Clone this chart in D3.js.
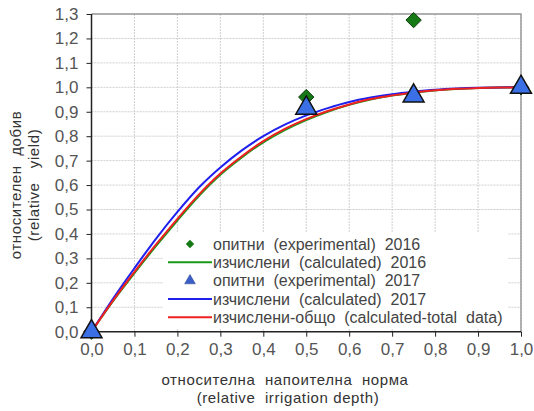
<!DOCTYPE html>
<html>
<head>
<meta charset="utf-8">
<script src="https://cdn.jsdelivr.net/npm/d3@7"></script>
<style>
  html, body { margin: 0; padding: 0; background: #fff; }
  svg { display: block; font-family: "Liberation Sans", Arial, sans-serif; }
</style>
</head>
<body>
<svg id="chart" width="534" height="411"></svg>
<script>
// Relative irrigation depth (x) and relative yield (y)
const xTicks = [0, 0.1, 0.2, 0.3, 0.4, 0.5, 0.6, 0.7, 0.8, 0.9, 1.0];
const yTicks = [0, 0.1, 0.2, 0.3, 0.4, 0.5, 0.6, 0.7, 0.8, 0.9, 1.0, 1.1, 1.2, 1.3];

// Experimental points
const exp2016X = [0, 0.5, 0.75, 1.0];
const exp2016Y = [0, 0.96, 1.275, 1.0];
const exp2017X = [0, 0.5, 0.75, 1.0];
const exp2017Y = [0, 0.915, 0.965, 1.0];

// Calculated curves
const curveX    = [0, 0.05, 0.1, 0.15, 0.2, 0.25, 0.3, 0.35, 0.4, 0.45, 0.5, 0.55, 0.6, 0.65, 0.7, 0.75, 0.8, 0.85, 0.9, 0.95, 1.0];
const calc2016  = [0, 0.125, 0.24, 0.35, 0.455, 0.555, 0.642, 0.713, 0.775, 0.825, 0.866, 0.9, 0.928, 0.95, 0.966, 0.978, 0.987, 0.993, 0.997, 0.999, 1.0];
const calc2017  = [0, 0.135, 0.26, 0.38, 0.49, 0.59, 0.672, 0.742, 0.80, 0.847, 0.885, 0.915, 0.94, 0.958, 0.972, 0.982, 0.99, 0.995, 0.998, 0.9995, 1.0];
const calcTotal = [0, 0.127, 0.245, 0.356, 0.462, 0.561, 0.647, 0.718, 0.78, 0.83, 0.87, 0.903, 0.93, 0.952, 0.967, 0.979, 0.988, 0.994, 0.997, 0.999, 1.0];

const legendLabels = [
  "опитни  (experimental)  2016",
  "изчислени  (calculated)  2016",
  "опитни  (experimental)  2017",
  "изчислени  (calculated)  2017",
  "изчислени-общо  (calculated-total  data)"
];

const svg = d3.select("#chart");
const plotL = 91.5, plotR = 521, plotT = 14, plotB = 331.7;

const x = d3.scaleLinear().domain([0, 1]).range([plotL, plotR]);
const y = d3.scaleLinear().domain([0, 1.3]).range([plotB, plotT]);
const fmt = d => d3.format(".1f")(d).replace(".", ",");

// Grid
const grid = svg.append("g");
grid.selectAll("line.h").data(yTicks.slice(1)).join("line")
  .attr("class", "h")
  .attr("x1", plotL).attr("x2", plotR)
  .attr("y1", d => y(d)).attr("y2", d => y(d))
  .attr("stroke", "#cfcfcf").attr("stroke-width", 1).attr("stroke-dasharray", "2,1");
grid.selectAll("line.v").data(xTicks.slice(1)).join("line")
  .attr("class", "v")
  .attr("y1", plotT).attr("y2", plotB)
  .attr("x1", d => x(d)).attr("x2", d => x(d))
  .attr("stroke", "#cfcfcf").attr("stroke-width", 1).attr("stroke-dasharray", "2,1");

// Frame (top & right)
svg.append("path")
  .attr("d", `M${plotL},${plotT}H${plotR}V${plotB}`)
  .attr("fill", "none").attr("stroke", "#9a9a9a").attr("stroke-width", 1.5);

// Axes
const xAxis = d3.axisBottom(x).tickValues(xTicks).tickFormat(fmt).tickSize(5).tickPadding(6);
const yAxis = d3.axisLeft(y).tickValues(yTicks).tickFormat(fmt).tickSize(5).tickPadding(8);

const gx = svg.append("g").attr("transform", `translate(0,${plotB})`).call(xAxis);
const gy = svg.append("g").attr("transform", `translate(${plotL},0)`).call(yAxis);
[gx, gy].forEach(g => {
  g.select(".domain").attr("stroke", "#222").attr("stroke-width", 1.5);
  g.selectAll(".tick line").attr("stroke", "#222");
  g.selectAll(".tick text").attr("fill", "#555")
    .style("font-size", "17px").style("font-family", "Liberation Sans, Arial, sans-serif");
});
gx.select(".domain").attr("d", `M${plotL},0H${plotR}`);
gy.select(".domain").attr("d", `M0,${plotT}V${plotB}`);

// Legend box (white background)
const lg = svg.append("g");
lg.append("rect").attr("x", 163).attr("y", 233).attr("width", 345).attr("height", 95).attr("fill", "#fff");

// Calculated curves
const line = d3.line().x((d, i) => x(curveX[i])).y(d => y(d)).curve(d3.curveMonotoneX);
svg.append("path").datum(calc2016).attr("d", line)
  .attr("fill", "none").attr("stroke", "#1a9a1a").attr("stroke-width", 2);
svg.append("path").datum(calc2017).attr("d", line)
  .attr("fill", "none").attr("stroke", "#2020ee").attr("stroke-width", 2);
svg.append("path").datum(calcTotal).attr("d", line)
  .attr("fill", "none").attr("stroke", "#ee2020").attr("stroke-width", 2);

// Experimental markers
const diamond = d3.symbol().type(d3.symbolDiamond2).size(150);
const triangle = d3.symbol().type(d3.symbolTriangle).size(190);

svg.append("g").selectAll("path").data(exp2016Y).join("path")
  .attr("d", diamond)
  .attr("transform", (d, i) => `translate(${x(exp2016X[i])},${y(d)})`)
  .attr("fill", "#157a15").attr("stroke", "#0c3a0c").attr("stroke-width", 1);

svg.append("g").selectAll("path").data(exp2017Y).join("path")
  .attr("d", triangle)
  .attr("transform", (d, i) => `translate(${x(exp2017X[i])},${y(d)})`)
  .attr("fill", "#3b6fe6").attr("stroke", "#111").attr("stroke-width", 1.5)
  .attr("stroke-linejoin", "miter");

// Legend entries
const rowY = [244, 262.3, 280.7, 299, 317.3];
const textX = 213;
lg.append("path").attr("d", d3.symbol().type(d3.symbolDiamond2).size(45))
  .attr("transform", `translate(190,${rowY[0]})`).attr("fill", "#157a15");
lg.append("line").attr("x1", 168).attr("x2", 212).attr("y1", rowY[1]).attr("y2", rowY[1])
  .attr("stroke", "#1a9a1a").attr("stroke-width", 2);
lg.append("path").attr("d", d3.symbol().type(d3.symbolTriangle).size(50))
  .attr("transform", `translate(190,${rowY[2]})`).attr("fill", "#3a5fc8").attr("stroke", "#2a3f8a").attr("stroke-width", 0.5);
lg.append("line").attr("x1", 168).attr("x2", 212).attr("y1", rowY[3]).attr("y2", rowY[3])
  .attr("stroke", "#2020ee").attr("stroke-width", 2);
lg.append("line").attr("x1", 168).attr("x2", 212).attr("y1", rowY[4]).attr("y2", rowY[4])
  .attr("stroke", "#ee2020").attr("stroke-width", 2);
lg.selectAll("text").data(legendLabels).join("text")
  .attr("x", textX).attr("y", (d, i) => rowY[i]).attr("dy", "0.35em")
  .attr("fill", "#444").style("font-size", "16px").style("white-space", "pre")
  .text(d => d);

// Axis titles
svg.append("text").attr("x", 285).attr("y", 385).attr("text-anchor", "middle")
  .attr("fill", "#333").style("font-size", "15px").style("letter-spacing", "0.6px")
  .style("white-space", "pre").text("относителна  напоителна  норма");
svg.append("text").attr("x", 288).attr("y", 403).attr("text-anchor", "middle")
  .attr("fill", "#333").style("font-size", "15px").style("letter-spacing", "0.6px")
  .style("white-space", "pre").text("(relative  irrigation depth)");

const yt = svg.append("g").attr("transform", "translate(0,185) rotate(-90)");
yt.append("text").attr("x", 0).attr("y", 21).attr("text-anchor", "middle")
  .attr("fill", "#333").style("font-size", "15px").style("letter-spacing", "0.6px")
  .style("white-space", "pre").text("относителен  добив");
yt.append("text").attr("x", 0).attr("y", 39).attr("text-anchor", "middle")
  .attr("fill", "#333").style("font-size", "15px").style("letter-spacing", "0.6px")
  .style("white-space", "pre").text("(relative   yield)");
</script>
</body>
</html>
